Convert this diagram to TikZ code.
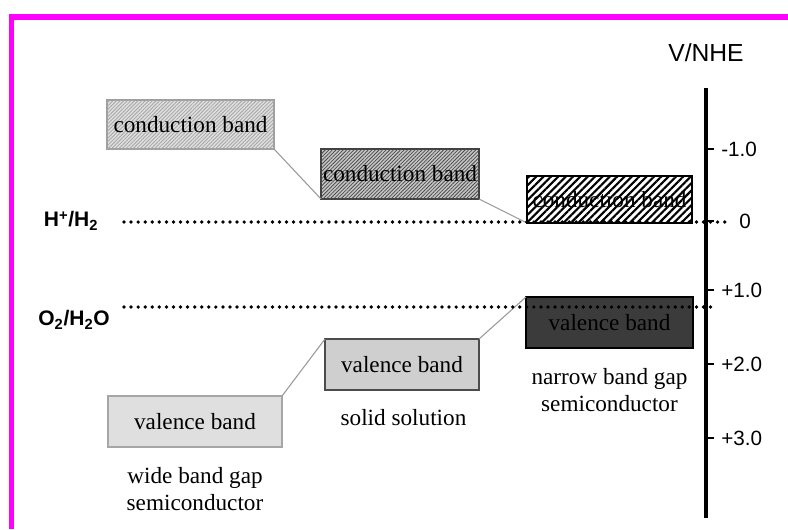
\documentclass[tikz,border=0pt]{standalone}
\usepackage{fontspec}
\setmainfont{Liberation Serif}
\setsansfont{Liberation Sans}
\usetikzlibrary{patterns, patterns.meta, positioning}
\definecolor{frame}{HTML}{FF00FF}
\tikzstyle{band}     = [line width=1.5pt, inner sep=0pt, outer sep=0pt, minimum height=37.5pt, align=center, font=\fontsize{17.4}{20.25}\selectfont]
\tikzstyle{caption}  = [align=center, font=\fontsize{17.4}{20.25}\selectfont]
\tikzstyle{redox}    = [font=\fontsize{15.75}{18}\selectfont\sffamily\bfseries]
\tikzstyle{ticklab}  = [font=\fontsize{15.5}{18}\selectfont\sffamily, inner sep=0pt]
\tikzstyle{level}    = [line width=2.8pt, line cap=round, dash pattern=on 0pt off 5.3pt]
\tikzstyle{link}     = [line width=0.8pt, gray!80]

\begin{document}
\begin{tikzpicture}[x=0.75pt, y=-0.75pt]
\useasboundingbox (0,0) rectangle (788,529);

% rámeček
\draw[frame, line width=3.8pt] (11.5,529) -- (11.5,17) -- (788,17);

% osa potenciálu
\node[ticklab, font=\fontsize{18.5}{20}\selectfont\sffamily] (unit) at (706,53) {V/NHE};
\coordinate (atop) at (706,88);
\coordinate (abot) at (706,518);
\draw[line width=2.3pt] (atop) -- (abot);
\draw[line width=1.5pt] (706,149) -- (714,149);
\draw[line width=1.5pt] (706,221) -- (714,221);
\draw[line width=1.5pt] (706,290) -- (714,290);
\draw[line width=1.5pt] (706,364) -- (714,364);
\draw[line width=1.5pt] (706,438) -- (714,438);
\node[ticklab, anchor=west] (t1) at (721,149) {-1.0};
\node[ticklab] (t2) at (745,221) {0};
\node[ticklab, anchor=west] (t3) at (721,290) {+1.0};
\node[ticklab, anchor=west] (t4) at (721,364) {+2.0};
\node[ticklab, anchor=west] (t5) at (721,438) {+3.0};

% vodivostní pásy
\node[band, draw=gray!75, fill=gray!25, minimum width=125.25pt, minimum height=36.75pt,
      postaction={pattern={Lines[angle=45,distance=1.9pt,line width=0.6pt]}, pattern color=gray!70}]
      (cbwide) at (190.5,124.5) {conduction band};
\node[band, draw=black!75, fill=gray!45, minimum width=118.5pt,
      postaction={pattern={Lines[angle=45,distance=1.9pt,line width=0.6pt]}, pattern color=black!70}]
      (cbsolid) at (400,174) {conduction band};
\node[band, draw=black, fill=white, minimum width=123.75pt, minimum height=35.25pt,
      postaction={pattern={Lines[angle=45,distance=3.9pt,line width=1.6pt]}, pattern color=black}]
      (cbnarrow) at (609.5,199.5) {conduction band};

% valenční pásy
\node[band, draw=gray!70, fill=gray!25, minimum width=130.5pt, minimum height=38.25pt]
      (vbwide) at (195,421.5) {valence band};
\node[band, draw=black!70, fill=gray!38, minimum width=115.5pt, minimum height=38.25pt]
      (vbsolid) at (402,364.5) {valence band};
\node[band, draw=black, fill=black!77, text=black, minimum width=125.25pt, minimum height=38.25pt]
      (vbnarrow) at (609.5,322.5) {valence band};

% spojnice hran pásů
\draw[link] (cbwide.south east) -- (cbsolid.south west);
\draw[link] (cbsolid.south east) -- (cbnarrow.south west);
\draw[link] (vbwide.north east) -- (vbsolid.north west);
\draw[link] (vbsolid.north east) -- (vbnarrow.north west);

% redoxní hladiny
\node[redox] (hlab) at (71,221) {H\textsuperscript{+}/H\textsubscript{2}};
\node[redox] (olab) at (74,320) {O\textsubscript{2}/H\textsubscript{2}O};
\coordinate (h0) at (124,222);
\coordinate (h1) at (728,222);
\coordinate (o0) at (124,307);
\coordinate (o1) at (717,307);
\draw[level] (h0) -- (h1);
\draw[level] (o0) -- (o1);

% popisky
\node[caption] (wide) at (195,489) {wide band gap\\semiconductor};
\node[caption] (solid) at (403.5,418) {solid solution};
\node[caption] (narrow) at (609.5,390) {narrow band gap\\semiconductor};

\end{tikzpicture}
\end{document}
